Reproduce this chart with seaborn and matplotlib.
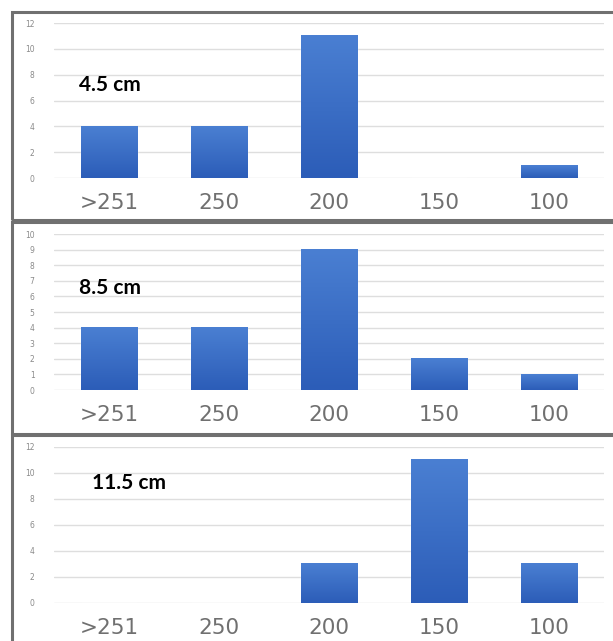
import seaborn as sns
import matplotlib.pyplot as plt
import matplotlib.patches as mpatches
from matplotlib.colors import LinearSegmentedColormap
import numpy as np
import pandas as pd

# categories and counts
categories = [">251", "250", "200", "150", "100"]
counts_45 = [4, 4, 11, 0, 1]
counts_85 = [4, 4, 9, 2, 1]
counts_115 = [0, 0, 3, 11, 3]
panel_labels = ["4.5 cm", "8.5 cm", "11.5 cm"]
y_max = [12, 10, 12]
y_step = [2, 1, 2]

sns.set_style("white")
plt.rcParams["font.family"] = ["DejaVu Sans"]

W, H = 613, 641
fig = plt.figure(figsize=(W / 100, H / 100), dpi=100)

# (axes top px, axes bottom px, label x px, label y px, frame top, frame bottom)
layout = [
    (23, 178, 79, 85, 12, 220),
    (234, 390, 79, 288, 222, 434),
    (447, 603, 92, 483, 435, 660),
]

grad = LinearSegmentedColormap.from_list("bar", ["#2c5db8", "#4a7fd2"])
gimg = np.linspace(0, 1, 64).reshape(-1, 1)

for counts, label, ymax, step, (top, bot, lx, ly, ft, fb) in zip(
        [counts_45, counts_85, counts_115], panel_labels, y_max, y_step, layout):
    # panel frame
    fig.patches.append(mpatches.Rectangle(
        (12 / W, 1 - fb / H), (W + 10 - 12) / W, (fb - ft) / H,
        transform=fig.transFigure, fill=False, edgecolor="#707070", lw=2.2))

    ax = fig.add_axes([54 / W, 1 - bot / H, 550 / W, (bot - top) / H])
    df = pd.DataFrame({"size": categories, "count": counts})
    sns.barplot(data=df, x="size", y="count", ax=ax, color="#3a6cc6",
                width=0.51, saturation=1, zorder=3)

    # vertical gradient on each bar
    for p in ax.patches:
        h = p.get_height()
        if h <= 0:
            continue
        x0 = p.get_x()
        ax.imshow(gimg, extent=(x0, x0 + p.get_width(), 0, h), origin="lower",
                  cmap=grad, aspect="auto", zorder=4)

    ax.set_xlim(-0.5, 4.5)
    ax.set_ylim(0, ymax)
    ax.set_yticks(np.arange(0, ymax + 1, step))
    ax.grid(axis="y", color="#dedede", lw=1, zorder=0)
    for s in ax.spines.values():
        s.set_visible(False)
    ax.set_xlabel("")
    ax.set_ylabel("")
    ax.tick_params(axis="y", length=0, labelsize=5.5, labelcolor="#8a8a8a", pad=14)
    ax.tick_params(axis="x", length=0, labelsize=15.5, labelcolor="#707070", pad=10.5)

    fig.text(lx / W, 1 - ly / H, label, fontsize=15, fontweight="bold",
             family=["Lato", "DejaVu Sans"], color="black", va="center", ha="left")

fig.savefig("out.png", dpi=100)
plt.close(fig)
